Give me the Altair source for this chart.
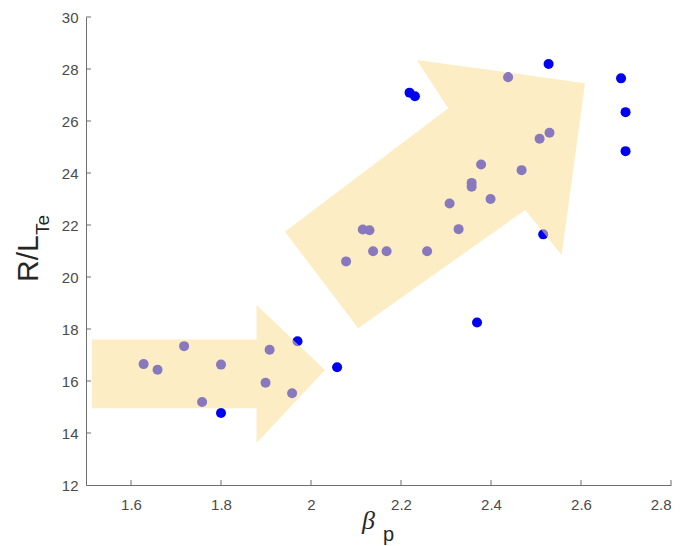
import altair as alt
import pandas as pd

# scatter data (beta_p, R/L_Te)
beta_p = [1.628, 1.659, 1.718, 1.800, 1.758, 1.800, 1.908, 1.899, 1.958, 1.970, 2.058,
          2.078, 2.115, 2.130, 2.138, 2.168, 2.258, 2.308, 2.328, 2.357, 2.357, 2.378,
          2.399, 2.468, 2.508, 2.530, 2.516, 2.438, 2.528, 2.219, 2.231, 2.369,
          2.689, 2.699, 2.699]
r_lte = [16.65, 16.43, 17.34, 16.63, 15.19, 14.77, 17.20, 15.93, 15.53, 17.53, 16.53,
         20.60, 21.83, 21.80, 20.99, 20.99, 20.99, 22.83, 21.84, 23.62, 23.47, 24.33,
         23.00, 24.11, 25.32, 25.55, 21.64, 27.68, 28.19, 27.09, 26.95, 18.25,
         27.64, 26.34, 24.84]

# arrow outlines (data units)
arrow1_x = [1.513, 1.879, 1.879, 2.031, 1.879, 1.879, 1.513]
arrow1_y = [17.60, 17.60, 18.92, 16.42, 13.62, 14.95, 14.95]
arrow2_x = [1.942, 2.305, 2.235, 2.609, 2.557, 2.476, 2.105]
arrow2_y = [21.74, 26.49, 28.35, 27.45, 20.85, 22.58, 18.03]

x_ticks = [1.6, 1.8, 2.0, 2.2, 2.4, 2.6, 2.8]
y_ticks = [12, 14, 16, 18, 20, 22, 24, 26, 28, 30]

W, H = 585, 468

pts = pd.DataFrame({"beta_p": beta_p, "r_lte": r_lte})
arr = pd.DataFrame({
    "arrow": ["a1"] * len(arrow1_x) + ["a2"] * len(arrow2_x),
    "order": list(range(len(arrow1_x))) + list(range(len(arrow2_x))),
    "x": arrow1_x + arrow2_x,
    "y": arrow1_y + arrow2_y,
})

xscale = alt.Scale(domain=[1.5, 2.8], nice=False, zero=False)
yscale = alt.Scale(domain=[12, 30], nice=False, zero=False)

x_axis = alt.Axis(values=x_ticks, format="~g", labelPadding=12, title=None)
y_axis = alt.Axis(values=y_ticks, format="d", labelPadding=8, title=None)

points = alt.Chart(pts).mark_circle(size=100, color="#0000f0", opacity=1).encode(
    x=alt.X("beta_p:Q", scale=xscale, axis=x_axis),
    y=alt.Y("r_lte:Q", scale=yscale, axis=y_axis),
)

arrows = alt.Chart(arr).mark_line(
    fill="#fbde92", fillOpacity=0.54, strokeOpacity=0, interpolate="linear-closed"
).encode(
    x=alt.X("x:Q", scale=xscale, axis=x_axis),
    y=alt.Y("y:Q", scale=yscale, axis=y_axis),
    detail="arrow:N",
    order="order:Q",
)

xt = alt.Chart(pd.DataFrame({"t": x_ticks})).mark_rule(color="#6e6e6e", strokeWidth=1).encode(
    x=alt.X("t:Q", scale=xscale, axis=x_axis),
    y=alt.value(H),
    y2=alt.value(H - 5),
)
yt = alt.Chart(pd.DataFrame({"t": y_ticks[1:]})).mark_rule(color="#6e6e6e", strokeWidth=1).encode(
    y=alt.Y("t:Q", scale=yscale, axis=y_axis),
    x=alt.value(0),
    x2=alt.value(5),
)

def label(txt, x, y, size, angle=0, font="Liberation Sans", style="normal"):
    return alt.Chart(pd.DataFrame({"t": [txt]})).mark_text(
        font=font, fontSize=size, fontStyle=style, color="#262626",
        align="left", baseline="alphabetic", angle=angle,
    ).encode(text="t:N", x=alt.value(x), y=alt.value(y))

ylab1 = label("R/L", -48, 265, 30, angle=270)
ylab2 = label("Te", -37, 218, 19, angle=270)
xlab1 = label("β", 276, 512, 26, font="Liberation Serif", style="italic")
xlab2 = label("p", 297, 524, 20)

chart = alt.layer(points, arrows, xt, yt, ylab1, ylab2, xlab1, xlab2).properties(
    width=W, height=H,
    padding={"left": 86, "top": 17, "right": 12, "bottom": 61},
    autosize=alt.AutoSizeParams(type="none"),
).configure_view(stroke=None).configure_axis(
    domainColor="#6e6e6e", labelColor="#4a4a4a", labelFont="Liberation Sans",
    labelFontSize=15, ticks=False, grid=False,
)

chart.save("out.html", embed_options={"renderer": "svg", "actions": False})
